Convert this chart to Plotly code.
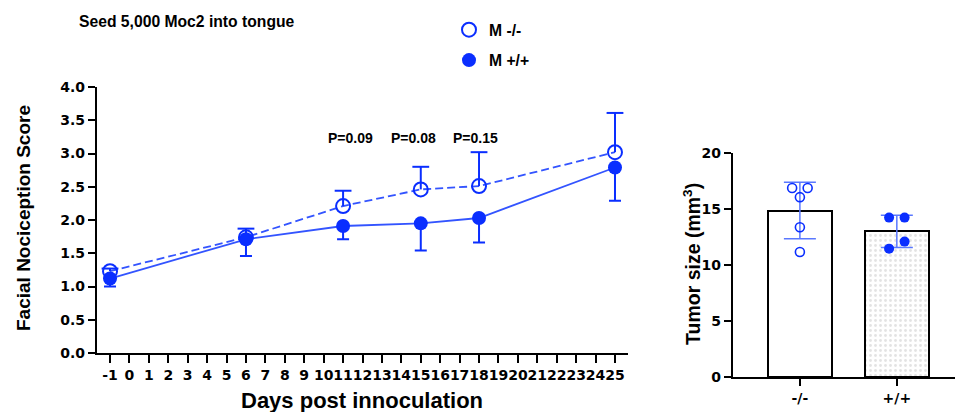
import plotly.graph_objects as go

# ---------------- data ----------------
days = [-1, 6, 11, 15, 18, 25]
m_ko = [1.23, 1.74, 2.21, 2.46, 2.51, 3.02]
m_ko_err = [0.04, 0.13, 0.23, 0.34, 0.51, 0.59]
m_wt = [1.12, 1.71, 1.91, 1.95, 2.03, 2.79]
m_wt_err = [0.12, 0.25, 0.20, 0.41, 0.37, 0.50]

p_days = [11.4, 14.6, 17.8]
p_labels = ["P=0.09", "P=0.08", "P=0.15"]
p_level = 3.23

x_ticks = list(range(-1, 26))

bar_groups = ["-/-", "+/+"]
tumor_ko = [16.87, 16.87, 16.06, 13.37, 11.16]
tumor_wt = [14.23, 14.23, 12.09, 11.46]

# ---------------- styling ----------------
BLUE = "#0a2eff"
LINE_BLUE = "#3354ff"
ERR_BLUE = "#5a78ff"
TXT = "Liberation Sans, Arial, sans-serif"
TICK = "DejaVu Sans, sans-serif"
W, H = 956, 412

ko_jitter = [-0.08, 0.08, 0.0, 0.0, 0.0]
wt_jitter = [-0.08, 0.08, 0.08, -0.08]


def mean(v):
    return sum(v) / len(v)


def sd(v):
    m = mean(v)
    return (sum((a - m) ** 2 for a in v) / (len(v) - 1)) ** 0.5


fig = go.Figure()

# lines
fig.add_trace(go.Scatter(x=days, y=m_ko, mode="lines", showlegend=False,
                         line=dict(color=LINE_BLUE, width=1.8, dash="8px,4px"),
                         xaxis="x", yaxis="y", hoverinfo="skip"))
fig.add_trace(go.Scatter(x=days, y=m_wt, mode="lines", showlegend=False,
                         line=dict(color=LINE_BLUE, width=1.8),
                         xaxis="x", yaxis="y", hoverinfo="skip"))

# M-/- error bars (upper only, cap at top)
fig.add_trace(go.Scatter(x=days, y=m_ko, mode="markers", showlegend=False,
                         marker=dict(size=1, color="rgba(0,0,0,0)"),
                         error_y=dict(type="data", symmetric=False, array=m_ko_err,
                                      arrayminus=[0] * len(days), width=0,
                                      thickness=2, color=BLUE),
                         xaxis="x", yaxis="y"))
fig.add_trace(go.Scatter(x=days, y=[a + e for a, e in zip(m_ko, m_ko_err)],
                         mode="markers", showlegend=False,
                         marker=dict(symbol="line-ew", size=12, color=BLUE,
                                     line=dict(color=BLUE, width=2)),
                         xaxis="x", yaxis="y"))

# M+/+ (lower error only)
fig.add_trace(go.Scatter(x=days, y=m_wt, mode="markers", showlegend=False,
                         marker=dict(size=14, color=BLUE),
                         error_y=dict(type="data", symmetric=False,
                                      array=[0] * len(days), arrayminus=m_wt_err,
                                      width=6, thickness=2, color=BLUE),
                         xaxis="x", yaxis="y"))
# M-/- markers
fig.add_trace(go.Scatter(x=days, y=m_ko, mode="markers", showlegend=False,
                         marker=dict(symbol="circle-open", size=14, color=BLUE,
                                     line=dict(color=BLUE, width=2)),
                         xaxis="x", yaxis="y"))

# legend-only entries
fig.add_trace(go.Scatter(x=[None], y=[None], mode="markers", name="M -/-",
                         legendgroup="ko",
                         marker=dict(symbol="circle-open", size=14, color=BLUE,
                                     line=dict(color=BLUE, width=2)),
                         xaxis="x", yaxis="y"))
fig.add_trace(go.Scatter(x=[None], y=[None], mode="markers", name="M +/+",
                         legendgroup="wt",
                         marker=dict(size=14, color=BLUE),
                         xaxis="x", yaxis="y"))

# ---------------- bar chart ----------------
groups_vals = [tumor_ko, tumor_wt]
means = [mean(v) for v in groups_vals]
sds = [sd(v) for v in groups_vals]

fig.add_trace(go.Bar(x=[0], y=[means[0]], width=0.66, showlegend=False,
                     marker=dict(color="white", line=dict(color="black", width=2)),
                     error_y=dict(type="data", array=[sds[0]], width=16,
                                  thickness=1.5, color=ERR_BLUE),
                     xaxis="x2", yaxis="y2"))
fig.add_trace(go.Bar(x=[1], y=[means[1]], width=0.66, showlegend=False,
                     marker=dict(color="white", line=dict(color="black", width=2),
                                 pattern=dict(shape=".", fgcolor="#c8c8c8",
                                              bgcolor="white", size=5, solidity=0.25)),
                     error_y=dict(type="data", array=[sds[1]], width=16,
                                  thickness=1.5, color=ERR_BLUE),
                     xaxis="x2", yaxis="y2"))
fig.add_trace(go.Scatter(x=[0 + j for j in ko_jitter], y=tumor_ko, mode="markers",
                         showlegend=False,
                         marker=dict(symbol="circle-open", size=9, color=BLUE,
                                     line=dict(color=BLUE, width=1.6)),
                         xaxis="x2", yaxis="y2"))
fig.add_trace(go.Scatter(x=[1 + j for j in wt_jitter], y=tumor_wt, mode="markers",
                         showlegend=False,
                         marker=dict(size=10, color=BLUE),
                         xaxis="x2", yaxis="y2"))

# ---------------- layout ----------------
tickfont = dict(family=TICK, size=14, color="black", weight="bold")
axis_common = dict(showline=True, linecolor="black", linewidth=2.2,
                   ticks="outside", tickwidth=2.2, tickcolor="black",
                   showgrid=False, zeroline=False, tickfont=tickfont, tickangle=0,
                   automargin=False)

fig.update_layout(
    width=W, height=H,
    margin=dict(l=0, r=0, t=0, b=0),
    paper_bgcolor="white", plot_bgcolor="white",
    xaxis=dict(domain=[97 / W, 628 / W], range=[-1.67, 25.67], ticklen=8,
               tickmode="array", tickvals=x_ticks, ticktext=[str(t) for t in x_ticks],
               anchor="y", **axis_common),
    yaxis=dict(domain=[59 / H, 325 / H], range=[0, 4.0], tickmode="linear",
               tick0=0, dtick=0.5, tickformat=".1f", anchor="x", ticklen=7,
               **axis_common),
    xaxis2=dict(domain=[733 / W, 955 / W], range=[-0.69, 1.6], tickmode="array",
                tickvals=[0, 1], ticktext=bar_groups, anchor="y2", ticklen=7,
                **axis_common),
    yaxis2=dict(domain=[35 / H, 259 / H], range=[0, 20], tickmode="linear",
                tick0=0, dtick=5, anchor="x2", ticklen=7, **axis_common),
    showlegend=True,
    legend=dict(x=449 / W, y=1 - 45 / H, xanchor="left", yanchor="middle",
                traceorder="grouped", tracegroupgap=7,
                font=dict(family=TXT, size=15.7, color="black", weight="bold"),
                bgcolor="rgba(0,0,0,0)", itemwidth=30),
    bargap=0,
)

ann = []
ann.append(dict(text="Seed 5,000 Moc2 into tongue", x=77 / W, y=1 - 22 / H,
                xref="paper", yref="paper", xanchor="left", yanchor="middle",
                showarrow=False,
                font=dict(family=TXT, size=15.7, color="black", weight="bold")))
ann.append(dict(text="Facial Nociception Score", x=23 / W, y=1 - 218 / H,
                xref="paper", yref="paper", xanchor="center", yanchor="middle",
                textangle=-90, showarrow=False,
                font=dict(family=TXT, size=19, color="black", weight="bold")))
ann.append(dict(text="Days post innoculation", x=362 / W, y=1 - 400 / H,
                xref="paper", yref="paper", xanchor="center", yanchor="middle",
                showarrow=False,
                font=dict(family=TXT, size=22, color="black", weight="bold")))
ann.append(dict(text="Tumor size (mm<sup>3</sup>)", x=692 / W, y=1 - 264 / H,
                xref="paper", yref="paper", xanchor="center", yanchor="middle",
                textangle=-90, showarrow=False,
                font=dict(family=TXT, size=19.5, color="black", weight="bold")))
for xd, lab in zip(p_days, p_labels):
    ann.append(dict(text=lab, x=xd, y=p_level, xref="x", yref="y",
                    xanchor="center", yanchor="middle", showarrow=False,
                    font=dict(family=TXT, size=14, color="black", weight="bold")))
fig.update_layout(annotations=ann)

fig.write_html("out.html", config={"displayModeBar": False},
               post_script="document.body.style.margin='0';"
                           "document.body.style.overflow='hidden';")
